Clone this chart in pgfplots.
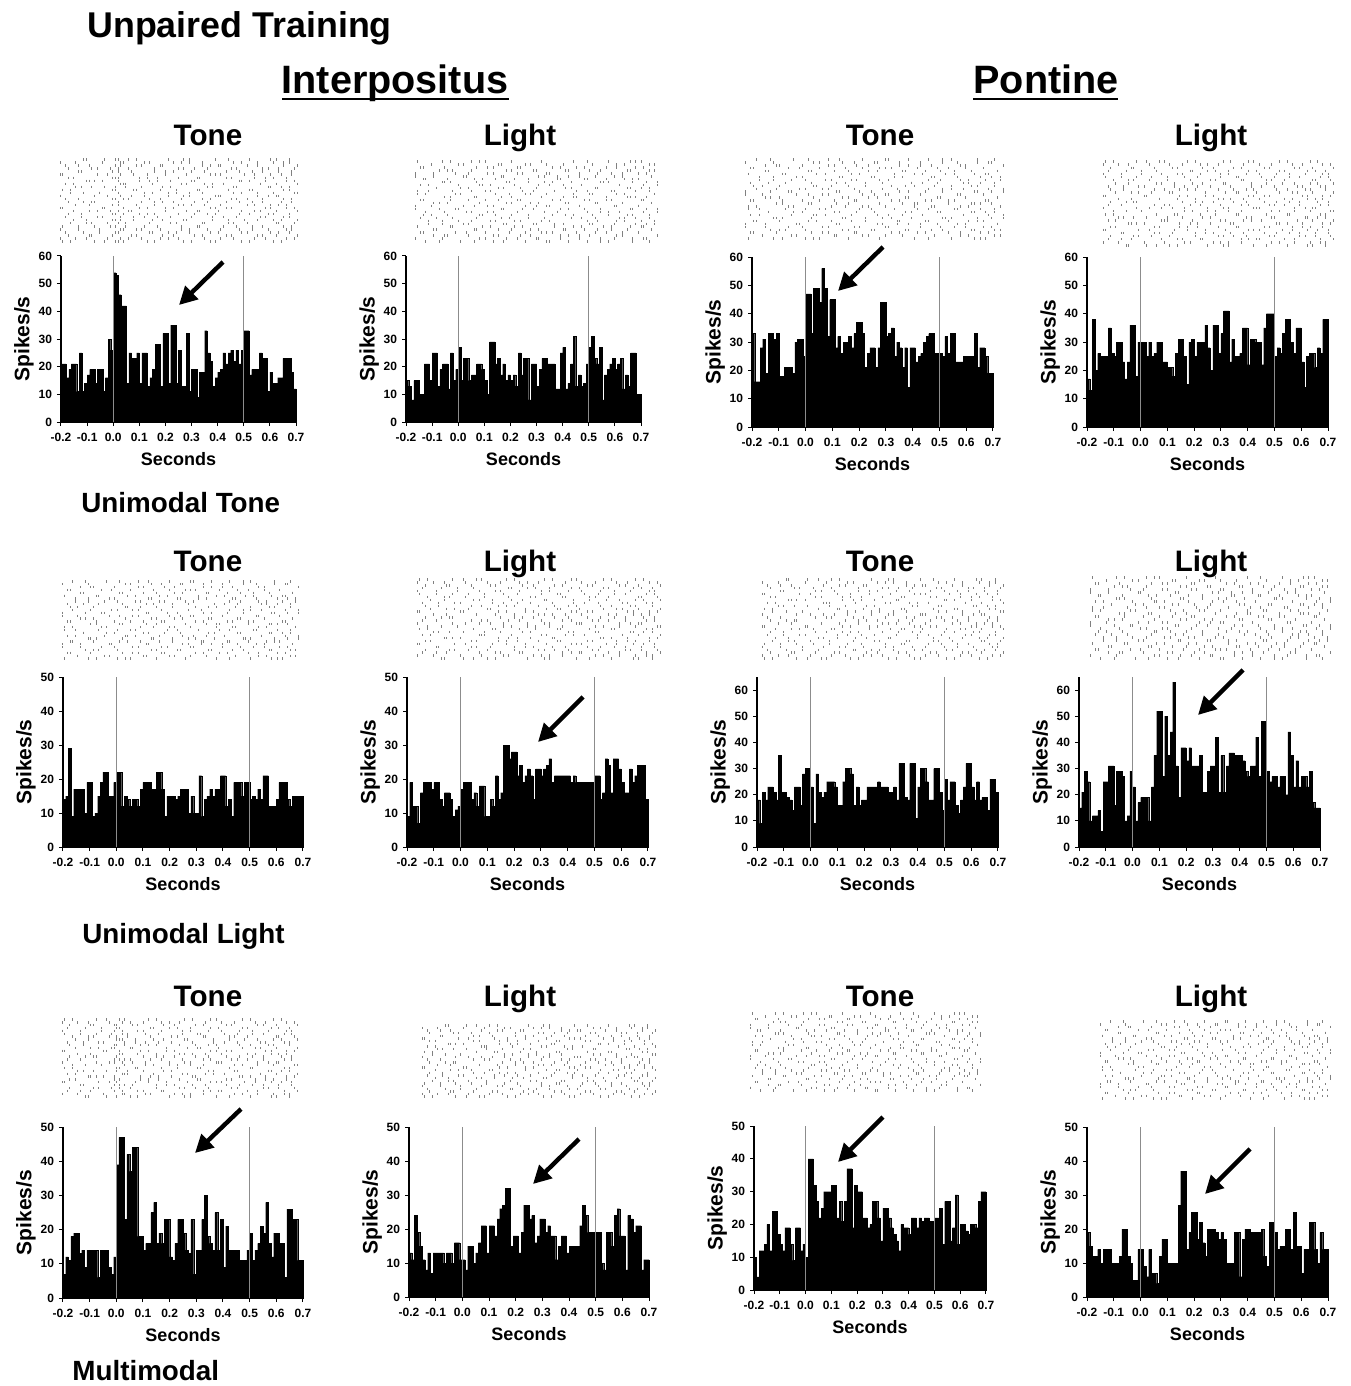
\documentclass[border=0pt]{standalone}
\usepackage{fontspec}
\setmainfont{Liberation Sans}
\usepackage{pgfplots}
\usepackage{pgfplotstable}
\pgfplotsset{compat=1.18}
\usetikzlibrary{arrows.meta}

\pgfplotsset{
 histax/.style={scale only axis, anchor=south west, xmin=-0.2, xmax=0.7, ymin=0,
  axis lines=left, axis line style={-, line width=0.6pt}, tick align=outside,
  major tick length=2pt, tick style={black, line width=0.5pt},
  xtick={-0.2,-0.1,0,0.1,0.2,0.3,0.4,0.5,0.6,0.7},
  xticklabels={-0.2,-0.1,0.0,0.1,0.2,0.3,0.4,0.5,0.6,0.7},
  tick label style={font=\bfseries\fontsize{6}{7}\selectfont},
  yticklabel style={xshift=1pt},
  /pgf/number format/assume math mode=true,
  xlabel={Seconds}, ylabel={Spikes/s},
  xlabel style={font=\bfseries\fontsize{9}{10}\selectfont},
  ylabel style={font=\bfseries\fontsize{10.5}{12}\selectfont},
  ylabel shift=-4.5pt, xlabel shift=-1.5pt,
  clip=false},
 rasterax/.style={scale only axis, anchor=south west, hide axis, xmin=-0.2, xmax=0.7, ymin=0.5, ymax=28.5},
 rdot/.style={only marks, mark=|, mark size=0.6pt, black!50, mark options={line width=0.35pt}}
}

% histogram data, 0.01 s bins from -0.2 to 0.7
\pgfplotstableread[row sep=\\]{y\\
21\\21\\16\\19\\21\\21\\11\\25\\11\\14\\
17\\19\\19\\14\\19\\19\\11\\16\\30\\26\\
54\\53\\46\\42\\42\\14\\25\\23\\23\\25\\
14\\25\\25\\13\\16\\19\\28\\28\\13\\32\\
32\\14\\35\\35\\14\\26\\13\\13\\32\\11\\
19\\19\\9\\18\\18\\33\\25\\22\\13\\16\\
18\\19\\25\\21\\25\\26\\22\\26\\21\\26\\
33\\33\\17\\19\\19\\19\\25\\23\\23\\11\\
18\\14\\14\\16\\16\\23\\23\\23\\18\\12\\}\hA
\pgfplotstableread[row sep=\\]{y\\
15\\13\\8\\15\\15\\10\\10\\21\\21\\15\\
25\\25\\13\\19\\21\\21\\12\\25\\15\\19\\
27\\15\\23\\23\\15\\17\\17\\21\\21\\19\\
15\\10\\29\\29\\21\\23\\17\\21\\15\\17\\
15\\17\\13\\25\\17\\23\\23\\8\\21\\21\\
13\\19\\23\\23\\21\\21\\21\\12\\12\\25\\
27\\12\\14\\21\\31\\13\\17\\13\\14\\21\\
27\\31\\23\\21\\27\\8\\17\\19\\21\\23\\
19\\21\\23\\12\\17\\13\\25\\25\\10\\10\\}\hB
\pgfplotstableread[row sep=\\]{y\\
33\\16\\16\\28\\31\\19\\33\\33\\31\\33\\
18\\18\\21\\21\\21\\19\\30\\31\\31\\25\\
47\\47\\33\\49\\49\\44\\56\\49\\32\\45\\
45\\28\\32\\26\\30\\30\\32\\28\\33\\37\\
37\\33\\21\\26\\28\\28\\21\\28\\44\\44\\
32\\33\\35\\25\\30\\28\\21\\28\\14\\28\\
28\\23\\25\\26\\30\\32\\33\\33\\26\\26\\
26\\25\\32\\26\\33\\33\\23\\23\\23\\25\\
25\\25\\25\\33\\21\\28\\28\\25\\19\\19\\}\hC
\pgfplotstableread[row sep=\\]{y\\
17\\13\\38\\20\\26\\25\\25\\25\\35\\26\\
25\\30\\30\\23\\17\\23\\36\\36\\18\\30\\
30\\30\\25\\30\\25\\26\\30\\30\\23\\23\\
21\\21\\18\\26\\31\\31\\25\\15\\30\\31\\
25\\30\\30\\30\\36\\28\\20\\36\\36\\26\\
33\\41\\41\\23\\31\\25\\25\\26\\35\\35\\
22\\31\\31\\30\\30\\22\\35\\40\\40\\40\\
25\\28\\26\\33\\38\\38\\30\\26\\35\\35\\
23\\14\\25\\26\\26\\21\\28\\26\\38\\38\\}\hD
\pgfplotstableread[row sep=\\]{y\\
14\\15\\29\\9\\17\\17\\17\\17\\10\\19\\
19\\9\\10\\15\\19\\22\\22\\15\\15\\19\\
22\\22\\12\\15\\14\\12\\14\\14\\12\\17\\
19\\19\\19\\17\\17\\22\\22\\17\\9\\15\\
15\\15\\14\\15\\17\\17\\17\\10\\15\\10\\
10\\21\\9\\14\\15\\17\\15\\17\\17\\21\\
21\\12\\14\\9\\19\\19\\19\\15\\19\\19\\
14\\15\\14\\17\\14\\21\\21\\12\\12\\12\\
14\\19\\19\\19\\14\\12\\15\\15\\15\\15\\}\hE
\pgfplotstableread[row sep=\\]{y\\
9\\19\\12\\12\\7\\16\\19\\19\\19\\17\\
19\\19\\14\\12\\16\\16\\14\\9\\11\\12\\
17\\19\\19\\19\\14\\16\\12\\18\\18\\9\\
9\\14\\12\\21\\14\\16\\30\\30\\26\\28\\
28\\21\\24\\19\\21\\23\\21\\14\\23\\23\\
21\\23\\24\\26\\19\\21\\21\\21\\21\\21\\
21\\19\\21\\19\\19\\19\\19\\19\\19\\19\\
21\\21\\14\\16\\26\\24\\16\\26\\26\\23\\
19\\16\\16\\23\\19\\21\\24\\24\\24\\14\\}\hF
\pgfplotstableread[row sep=\\]{y\\
18\\9\\21\\18\\23\\23\\21\\18\\35\\21\\
21\\19\\18\\14\\23\\23\\16\\28\\30\\30\\
23\\9\\28\\21\\19\\21\\25\\25\\25\\23\\
16\\16\\25\\30\\30\\28\\16\\23\\16\\18\\
18\\23\\23\\23\\23\\25\\23\\23\\23\\21\\
21\\23\\18\\32\\32\\19\\18\\32\\32\\11\\
23\\30\\30\\25\\18\\18\\30\\30\\21\\14\\
26\\18\\25\\25\\16\\13\\18\\23\\32\\32\\
23\\18\\25\\18\\19\\19\\14\\26\\26\\21\\}\hG
\pgfplotstableread[row sep=\\]{y\\
15\\21\\29\\25\\10\\12\\12\\14\\6\\25\\
25\\31\\31\\16\\29\\29\\27\\10\\12\\29\\
23\\10\\17\\19\\19\\19\\10\\23\\35\\52\\
52\\27\\50\\35\\44\\63\\31\\19\\38\\38\\
33\\38\\31\\31\\31\\35\\21\\21\\29\\31\\
31\\42\\21\\35\\21\\31\\36\\36\\35\\35\\
35\\33\\29\\27\\31\\31\\42\\27\\48\\48\\
29\\25\\27\\27\\23\\27\\27\\20\\44\\35\\
23\\33\\23\\27\\27\\23\\29\\17\\15\\15\\}\hH
\pgfplotstableread[row sep=\\]{y\\
7\\12\\11\\18\\19\\19\\13\\14\\9\\14\\
14\\14\\14\\6\\14\\14\\14\\9\\7\\12\\
39\\47\\47\\23\\42\\37\\44\\44\\18\\18\\
14\\16\\16\\25\\28\\16\\19\\16\\23\\23\\
12\\11\\16\\23\\23\\19\\14\\13\\23\\7\\
14\\14\\23\\30\\18\\16\\14\\25\\14\\23\\
9\\21\\14\\14\\14\\14\\11\\11\\11\\14\\
19\\11\\14\\16\\21\\19\\28\\16\\12\\19\\
19\\16\\16\\6\\26\\26\\23\\23\\11\\11\\}\hI
\pgfplotstableread[row sep=\\]{y\\
13\\11\\24\\19\\15\\11\\8\\13\\7\\13\\
13\\13\\13\\10\\13\\13\\10\\16\\16\\11\\
11\\8\\15\\15\\10\\13\\16\\21\\21\\13\\
21\\21\\18\\23\\26\\27\\32\\32\\15\\18\\
18\\13\\19\\27\\27\\23\\24\\16\\18\\23\\
23\\19\\21\\18\\18\\11\\15\\18\\18\\13\\
15\\15\\15\\15\\21\\27\\24\\19\\19\\19\\
19\\19\\10\\8\\19\\19\\15\\24\\26\\18\\
18\\8\\24\\23\\19\\21\\21\\8\\11\\11\\}\hJ
\pgfplotstableread[row sep=\\]{y\\
10\\4\\12\\12\\14\\20\\12\\24\\24\\17\\
14\\12\\19\\19\\14\\9\\19\\19\\12\\14\\
10\\40\\40\\32\\27\\22\\25\\30\\30\\30\\
32\\32\\22\\27\\21\\27\\37\\37\\19\\32\\
30\\30\\22\\22\\19\\20\\27\\27\\22\\15\\
25\\25\\22\\19\\17\\15\\12\\20\\19\\19\\
17\\22\\22\\19\\22\\21\\22\\22\\21\\21\\
22\\22\\25\\14\\27\\27\\15\\19\\29\\14\\
20\\20\\18\\17\\20\\20\\19\\27\\30\\30\\}\hK
\pgfplotstableread[row sep=\\]{y\\
19\\15\\12\\12\\14\\10\\14\\14\\14\\10\\
10\\10\\12\\20\\20\\12\\10\\5\\5\\14\\
14\\9\\6\\14\\7\\7\\4\\12\\17\\17\\
10\\10\\10\\10\\27\\37\\37\\14\\19\\25\\
25\\17\\22\\16\\12\\20\\20\\20\\19\\17\\
19\\17\\10\\10\\10\\19\\19\\6\\17\\20\\
20\\19\\19\\19\\19\\20\\12\\9\\22\\22\\
19\\14\\15\\15\\20\\20\\14\\25\\15\\15\\
7\\14\\14\\22\\22\\14\\10\\19\\14\\14\\}\hL

% raster spike times (trial, flipped trial, spike times)
\pgfplotstableread{
r f c1 c2 c3 c4 c5 c6 c7 c8
1 28 -0.19 -0.07 0.04 0.16 0.27 0.39 0.52 0.64
2 27 -0.14 -0.02 0.11 0.21 0.35 0.46 0.58 0.69
3 26 -0.17 -0.09 0.07 0.19 0.31 0.43 0.55 0.62
4 25 -0.11 0.01 0.14 0.24 0.37 0.49 0.60 0.67
5 24 -0.20 -0.05 0.09 0.18 0.29 0.41 0.53 0.66
6 23 -0.13 -0.01 0.12 0.26 0.33 0.47 0.57 0.68
7 22 -0.16 -0.08 0.05 0.22 0.34 0.44 0.51 0.63
8 21 -0.10 0.03 0.15 0.28 0.38 0.50 0.61 0.70
9 20 -0.18 -0.04 0.08 0.17 0.30 0.42 0.56 0.65
10 19 -0.12 0.00 0.13 0.25 0.36 0.48 0.59 0.67
11 18 -0.15 -0.06 0.06 0.20 0.32 0.40 0.54 0.62
12 17 -0.19 -0.03 0.10 0.23 0.39 0.45 0.58 0.69
13 16 -0.09 0.02 0.16 0.27 0.35 0.51 0.60 0.66
14 15 -0.17 -0.07 0.11 0.19 0.31 0.43 0.53 0.64
15 14 -0.13 0.04 0.14 0.26 0.37 0.47 0.57 0.68
16 13 -0.20 -0.02 0.07 0.21 0.29 0.41 0.55 0.63
17 12 -0.11 -0.05 0.12 0.24 0.34 0.49 0.61 0.70
18 11 -0.16 0.01 0.09 0.18 0.33 0.44 0.52 0.65
19 10 -0.14 -0.08 0.05 0.22 0.36 0.46 0.59 0.67
20 9 -0.18 0.03 0.15 0.28 0.38 0.42 0.56 0.62
21 8 -0.10 -0.04 0.10 0.17 0.30 0.48 0.58 0.69
22 7 -0.15 0.00 0.13 0.25 0.32 0.45 0.54 0.66
23 6 -0.19 -0.06 0.08 0.20 0.39 0.50 0.60 0.64
24 5 -0.12 0.02 0.16 0.23 0.35 0.43 0.53 0.68
25 4 -0.17 -0.01 0.06 0.27 0.31 0.47 0.57 0.63
26 3 -0.13 -0.09 0.11 0.19 0.37 0.41 0.55 0.70
27 2 -0.20 0.04 0.14 0.26 0.34 0.49 0.61 0.65
28 1 -0.11 -0.03 0.09 0.21 0.29 0.44 0.52 0.67
}\rA
\pgfplotstableread{
r f c1 c2 c3 c4 c5 c6 c7 c8
1 28 -0.16 -0.03 0.02 0.13 0.30 0.37 0.49 0.61
2 27 -0.20 -0.10 0.06 0.18 0.25 0.41 0.54 0.66
3 26 -0.08 0.00 0.09 0.23 0.34 0.45 0.57 0.70
4 25 -0.18 -0.05 0.15 0.21 0.29 0.40 0.51 0.63
5 24 -0.13 0.03 0.11 0.26 0.36 0.48 0.59 0.68
6 23 -0.19 -0.07 0.05 0.17 0.32 0.42 0.53 0.65
7 22 -0.10 -0.02 0.14 0.24 0.35 0.46 0.62 0.69
8 21 -0.15 0.01 0.08 0.19 0.27 0.44 0.55 0.64
9 20 -0.12 -0.06 0.12 0.22 0.38 0.47 0.58 0.67
10 19 -0.17 0.04 0.10 0.16 0.31 0.39 0.52 0.61
11 18 -0.09 -0.01 0.07 0.28 0.33 0.49 0.56 0.70
12 17 -0.20 -0.04 0.13 0.20 0.37 0.43 0.60 0.66
13 16 -0.14 0.02 0.09 0.25 0.30 0.41 0.54 0.63
14 15 -0.11 -0.08 0.16 0.23 0.36 0.48 0.57 0.68
15 14 -0.18 0.00 0.06 0.18 0.34 0.45 0.51 0.65
16 13 -0.07 0.03 0.12 0.27 0.39 0.40 0.59 0.62
17 12 -0.16 -0.05 0.15 0.21 0.29 0.46 0.55 0.69
18 11 -0.19 0.01 0.08 0.24 0.32 0.44 0.53 0.67
19 10 -0.12 -0.03 0.11 0.19 0.38 0.47 0.60 0.64
20 9 -0.15 0.04 0.05 0.26 0.35 0.42 0.56 0.70
21 8 -0.09 -0.07 0.14 0.22 0.31 0.49 0.52 0.66
22 7 -0.17 0.02 0.10 0.17 0.33 0.43 0.58 0.61
23 6 -0.20 -0.02 0.13 0.28 0.37 0.41 0.54 0.68
24 5 -0.13 0.00 0.07 0.20 0.30 0.48 0.57 0.63
25 4 -0.08 -0.06 0.16 0.25 0.36 0.45 0.59 0.69
26 3 -0.18 0.03 0.09 0.18 0.34 0.40 0.51 0.65
27 2 -0.14 -0.04 0.12 0.23 0.29 0.46 0.55 0.67
28 1 -0.10 0.01 0.06 0.27 0.39 0.44 0.60 0.62
}\rB
\pgfplotstableread[row sep=\\]{r x\\
1 0.01\\2 0.03\\3 0.00\\4 0.02\\5 0.04\\6 0.01\\7 0.02\\8 0.00\\9 0.03\\10 0.01\\
11 0.02\\12 0.04\\13 0.00\\14 0.02\\15 0.01\\16 0.03\\17 0.02\\18 0.00\\19 0.01\\20 0.04\\
21 0.02\\22 0.01\\23 0.03\\24 0.00\\25 0.02\\26 0.01\\27 0.03\\28 0.02\\}\rS

\newcommand{\hist}[7]{%
\begin{axis}[histax, at={(#1pt,#2pt)}, width=#3pt, height=#4pt, ymax=#5, ytick={#6}]
\addplot[ybar, bar width=0.01, bar shift=0pt, fill=black, draw=black, line width=0.1pt] table[x expr=\coordindex*0.01-0.195, y index=0] {#7};
\addplot[black!45, line width=0.7pt] coordinates {(0,0) (0,#5)};
\addplot[black!45, line width=0.7pt] coordinates {(0.5,0) (0.5,#5)};
\end{axis}}

\newcommand{\raster}[7]{%
\begin{axis}[rasterax, at={(#1pt,#2pt)}, width=#3pt, height=#4pt]
\pgfplotsinvokeforeach{2,...,9}{%
\addplot[rdot] table[x index=##1, y index=#5] {\rA};
\addplot[rdot] table[x index=##1, y index=#6] {\rB};}
#7
\end{axis}}

\newcommand{\bigfont}[1]{\bfseries\fontsize{#1}{#1}\selectfont}

\begin{document}
\begin{tikzpicture}
\useasboundingbox (0pt,0pt) rectangle (675pt,-693pt);

% headings
\node[font=\bigfont{17.9}, anchor=base west, inner sep=0pt] at (43.5pt,-19pt) {Unpaired Training};
\node[font=\bigfont{19.8}, anchor=base, inner sep=0pt] at (197.5pt,-47pt) {Interpositus};
\node[font=\bigfont{19.8}, anchor=base, inner sep=0pt] at (523pt,-47pt) {Pontine};
\draw[line width=1.4pt] (141pt,-49.5pt) -- (254.5pt,-49.5pt);
\draw[line width=1.4pt] (486.5pt,-49.5pt) -- (559pt,-49.5pt);
\node[font=\bigfont{13.9}, anchor=base west, inner sep=0pt] at (40.5pt,-256pt) {Unimodal Tone};
\node[font=\bigfont{13.9}, anchor=base west, inner sep=0pt] at (41pt,-471.5pt) {Unimodal Light};
\node[font=\bigfont{13.9}, anchor=base west, inner sep=0pt] at (36pt,-690pt) {Multimodal};

% panel titles
\foreach \yy in {-73,-285.5,-503} {
\node[font=\bigfont{14.8}, anchor=base, inner sep=0pt] at (104pt,\yy pt) {Tone};
\node[font=\bigfont{14.8}, anchor=base, inner sep=0pt] at (260pt,\yy pt) {Light};
\node[font=\bigfont{14.8}, anchor=base, inner sep=0pt] at (440pt,\yy pt) {Tone};
\node[font=\bigfont{14.8}, anchor=base, inner sep=0pt] at (605.5pt,\yy pt) {Light};
}

% rasters
\raster{30}{-121.5}{118.5}{42.5}{0}{0}{\addplot[rdot] table[x index=1,y index=0]{\rS};}
\raster{207.5}{-121.5}{121}{41.5}{1}{0}{}
\raster{372.5}{-120}{129}{41}{0}{1}{}
\raster{551.5}{-123.5}{115}{43.5}{1}{1}{}
\raster{31}{-330}{118}{40}{0}{1}{}
\raster{208.5}{-330}{121.5}{41}{1}{1}{}
\raster{381}{-330}{120.5}{41}{0}{0}{}
\raster{545}{-330}{120}{42}{1}{0}{}
\raster{31}{-549}{117.5}{40}{1}{1}{\addplot[rdot] table[x index=1,y index=0]{\rS};}
\raster{211}{-549}{116.5}{37}{0}{0}{}
\raster{375}{-546}{115}{40}{1}{0}{}
\raster{550}{-550}{115}{40}{0}{1}{}

% histograms
\hist{30.5}{-211}{117.5}{83}{60}{0,10,...,60}{\hA}
\hist{203}{-211}{117.5}{83}{60}{0,10,...,60}{\hB}
\hist{376}{-213.5}{120.5}{85}{60}{0,10,...,60}{\hC}
\hist{543.5}{-213.5}{120.5}{85}{60}{0,10,...,60}{\hD}
\hist{31.5}{-423.5}{120}{85}{50}{0,10,...,50}{\hE}
\hist{203.5}{-423.5}{120.5}{85}{50}{0,10,...,50}{\hF}
\hist{378.5}{-423.5}{120.5}{85}{65}{0,10,...,60}{\hG}
\hist{539.5}{-423.5}{120.5}{85}{65}{0,10,...,60}{\hH}
\hist{31.5}{-649}{120}{85.5}{50}{0,10,...,50}{\hI}
\hist{204.5}{-648.5}{120}{85}{50}{0,10,...,50}{\hJ}
\hist{377}{-645}{116}{82}{50}{0,10,...,50}{\hK}
\hist{543.5}{-648.5}{120.5}{85}{50}{0,10,...,50}{\hL}

% arrows
\tikzset{bigarrow/.style={line width=2.2pt, -{Triangle[length=9pt,width=9pt]}}}
\draw[bigarrow] (111.5pt,-131pt) -- (89.5pt,-152.5pt);
\draw[bigarrow] (441.5pt,-123.5pt) -- (419pt,-145.5pt);
\draw[bigarrow] (291.5pt,-348.5pt) -- (269pt,-371pt);
\draw[bigarrow] (621.5pt,-335pt) -- (599pt,-357.5pt);
\draw[bigarrow] (120.5pt,-554.5pt) -- (97.5pt,-576.5pt);
\draw[bigarrow] (289.5pt,-569.5pt) -- (266.5pt,-592pt);
\draw[bigarrow] (441.5pt,-558.5pt) -- (419pt,-581pt);
\draw[bigarrow] (625pt,-574.5pt) -- (602.5pt,-597pt);
\end{tikzpicture}
\end{document}
